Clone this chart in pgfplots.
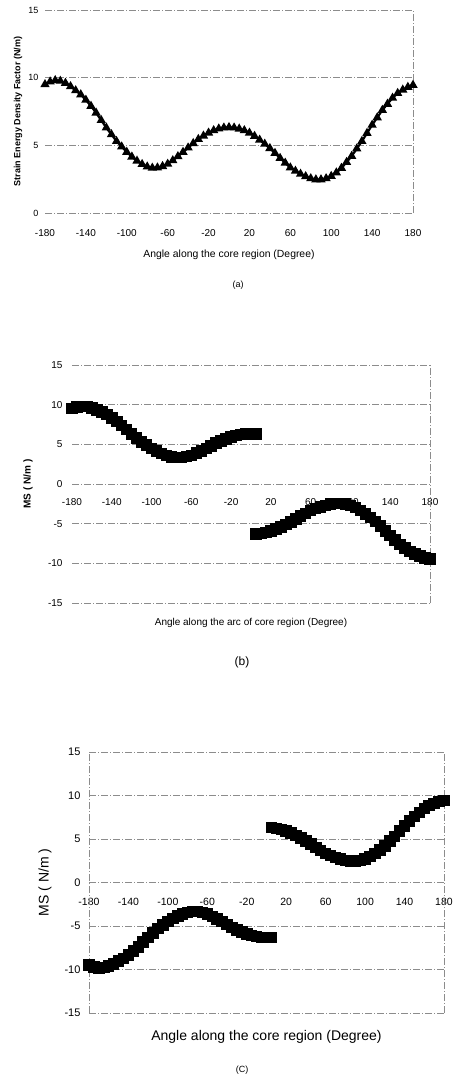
\documentclass[border=0pt]{standalone}
\usepackage{fontspec}
\setmainfont{Liberation Sans}
\usepackage{pgfplots}
\usepackage{pgfplotstable}
\pgfplotsset{compat=1.18}
\pgfplotstableread{
x s
-180 9.50
-175 9.70
-170 9.80
-165 9.75
-160 9.60
-155 9.35
-150 9.05
-145 8.75
-140 8.35
-135 7.90
-130 7.40
-125 6.85
-120 6.30
-115 5.80
-110 5.30
-105 4.90
-100 4.50
-95 4.15
-90 3.85
-85 3.60
-80 3.42
-75 3.33
-70 3.35
-65 3.45
-60 3.62
-55 3.88
-50 4.18
-45 4.50
-40 4.82
-35 5.15
-30 5.45
-25 5.70
-20 5.92
-15 6.10
-10 6.23
-5 6.30
0 6.33
5 6.30
10 6.22
15 6.10
20 5.92
25 5.68
30 5.40
35 5.10
40 4.78
45 4.42
50 4.05
55 3.70
60 3.35
65 3.10
70 2.88
75 2.70
80 2.55
85 2.47
90 2.47
95 2.55
100 2.72
105 2.98
110 3.32
115 3.75
120 4.20
125 4.75
130 5.30
135 5.90
140 6.50
145 7.05
150 7.60
155 8.05
160 8.50
165 8.85
170 9.10
175 9.30
180 9.45
}\posdata
\pgfplotstableread{
x s
-180 -9.50
-175 -9.70
-170 -9.80
-165 -9.75
-160 -9.60
-155 -9.35
-150 -9.05
-145 -8.75
-140 -8.35
-135 -7.90
-130 -7.40
-125 -6.85
-120 -6.30
-115 -5.80
-110 -5.30
-105 -4.90
-100 -4.50
-95 -4.15
-90 -3.85
-85 -3.60
-80 -3.42
-75 -3.33
-70 -3.35
-65 -3.45
-60 -3.62
-55 -3.88
-50 -4.18
-45 -4.50
-40 -4.82
-35 -5.15
-30 -5.45
-25 -5.70
-20 -5.92
-15 -6.10
-10 -6.23
-5 -6.30
0 -6.33
5 -6.30
10 -6.22
15 -6.10
20 -5.92
25 -5.68
30 -5.40
35 -5.10
40 -4.78
45 -4.42
50 -4.05
55 -3.70
60 -3.35
65 -3.10
70 -2.88
75 -2.70
80 -2.55
85 -2.47
90 -2.47
95 -2.55
100 -2.72
105 -2.98
110 -3.32
115 -3.75
120 -4.20
125 -4.75
130 -5.30
135 -5.90
140 -6.50
145 -7.05
150 -7.60
155 -8.05
160 -8.50
165 -8.85
170 -9.10
175 -9.30
180 -9.45
}\negdata
\pgfplotsset{
  shared/.style={
    scale only axis, clip=false,
    xmin=-180, xmax=180, xtick={-180,-140,...,180},
    axis x line*=bottom, axis y line*=left,
    axis line style={draw=none},
    major tick length=0pt,
    ymajorgrids,
    grid style={black!45, line width=0.6pt, dash pattern=on 7pt off 2pt on 1pt off 2pt},
    extra x tick labels={},
    extra x tick style={grid=major},
    /pgf/number format/assume math mode=true,
  },
}
\begin{document}
\begin{tikzpicture}
\useasboundingbox (0pt,0pt) rectangle (455pt,-1078pt);
% (a)
\begin{axis}[shared,
  at={(45pt,-213pt)}, anchor=south west, width=368pt, height=203pt,
  ymin=0, ymax=15, ytick={0,5,10,15},
  extra x ticks={180},
  xticklabel style={anchor=center, yshift=-20pt, font=\fontsize{10}{12}\selectfont},
  yticklabel style={xshift=-3pt, font=\fontsize{9}{11}\selectfont},
  xlabel={Angle along the core region (Degree)},
  xlabel style={at={(axis description cs:0.5,-0.207)}, anchor=center, font=\fontsize{10.4}{12}\selectfont},
  ylabel={Strain Energy Density Factor (N/m)},
  ylabel style={at={(axis description cs:-0.0734,0.5)}, anchor=center, font=\fontsize{9}{11}\selectfont\bfseries},
]
\addplot[black, line width=2.2pt, mark=triangle*, mark size=3.2pt, mark options={solid}] table[x=x,y=s] {\posdata};
\end{axis}
\node[font=\fontsize{9}{11}\selectfont] at (238pt,-285pt) {(a)};
% (b)
\begin{axis}[shared,
  at={(72pt,-603pt)}, anchor=south west, width=358pt, height=238pt,
  ymin=-15, ymax=15, ytick={-15,-10,...,15},
  extra x ticks={180},
  xticklabel style={anchor=center, yshift=101pt, font=\fontsize{10}{12}\selectfont},
  yticklabel style={xshift=-6pt, font=\fontsize{10}{12}\selectfont},
  xlabel={Angle along the arc of core region (Degree)},
  xlabel style={at={(axis description cs:0.5,-0.084)}, anchor=center, font=\fontsize{10}{12}\selectfont},
  ylabel={MS ( N/m )},
  ylabel style={at={(axis description cs:-0.123,0.5)}, anchor=center, font=\fontsize{10}{12}\selectfont\bfseries},
]
\addplot[black, line width=3.5pt, mark=square*, mark size=4pt, mark options={solid}, restrict x to domain=-180:5] table[x=x,y=s] {\posdata};
\addplot[black, line width=3.5pt, mark=square*, mark size=4pt, mark options={solid}, restrict x to domain=5:180] table[x=x,y=s] {\negdata};
\end{axis}
\node[font=\fontsize{12}{14}\selectfont] at (242pt,-662pt) {(b)};
% (c)
\begin{axis}[shared,
  at={(89pt,-1013pt)}, anchor=south west, width=355pt, height=261pt,
  ymin=-15, ymax=15, ytick={-15,-10,...,15},
  extra x ticks={-180,180},
  xticklabel style={anchor=center, yshift=111.5pt, font=\fontsize{10.5}{12}\selectfont},
  yticklabel style={xshift=-5pt, font=\fontsize{11}{13}\selectfont},
  xlabel={Angle along the core region (Degree)},
  xlabel style={at={(axis description cs:0.5,-0.092)}, anchor=center, font=\fontsize{14}{16}\selectfont},
  ylabel={MS ( N/m )},
  ylabel style={at={(axis description cs:-0.124,0.5)}, anchor=center, font=\fontsize{14}{16}\selectfont},
]
\addplot[black, line width=3.5pt, mark=square*, mark size=4pt, mark options={solid}, restrict x to domain=-180:5] table[x=x,y=s] {\negdata};
\addplot[black, line width=3.5pt, mark=square*, mark size=4pt, mark options={solid}, restrict x to domain=5:180] table[x=x,y=s] {\posdata};
\end{axis}
\node[font=\fontsize{9}{11}\selectfont] at (242pt,-1070pt) {(C)};
\end{tikzpicture}
\end{document}
